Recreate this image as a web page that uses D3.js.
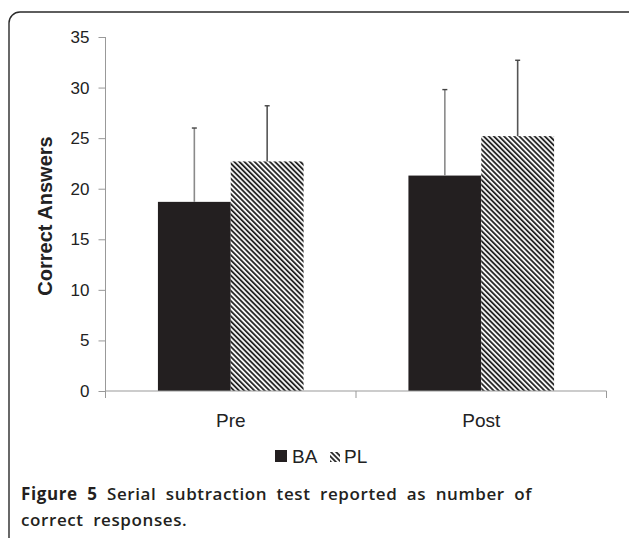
<!DOCTYPE html>
<meta charset="utf-8">
<script src="https://d3js.org/d3.v7.min.js"></script>
<style>
  body { margin: 0; background: #fff; }
  svg { display: block; }
</style>
<div id="graph"></div>
<script>
  // data
  var categories = ["Pre", "Post"];
  var series = ["BA", "PL"];
  var meanBA = [18.7, 21.3];
  var meanPL = [22.7, 25.2];
  var sdBA = [7.3, 8.5];
  var sdPL = [5.5, 7.5];
  var yTicks = [0, 5, 10, 15, 20, 25, 30, 35];

  var W = 629, H = 538;
  var svg = d3.select("#graph").append("svg")
    .attr("width", W).attr("height", H);

  // hatch pattern for PL
  var defs = svg.append("defs");
  var pat = defs.append("pattern")
    .attr("id", "hatch")
    .attr("patternUnits", "userSpaceOnUse")
    .attr("width", 3.6).attr("height", 3.6)
    .attr("patternTransform", "rotate(-45)");
  pat.append("rect").attr("width", 3.6).attr("height", 3.6).attr("fill", "#f4f4f4");
  pat.append("rect").attr("width", 1.7).attr("height", 3.6).attr("fill", "#1e1e1e");

  // outer rounded frame (runs off the right/bottom edge)
  svg.append("rect")
    .attr("x", 9).attr("y", 12)
    .attr("width", 640).attr("height", 560)
    .attr("rx", 11).attr("ry", 11)
    .attr("fill", "none")
    .attr("stroke", "#2a2a2a")
    .attr("stroke-width", 1.4);

  var plotL = 105.5, plotR = 606.5, plotT = 37, plotB = 391;

  var x = d3.scaleBand().domain(categories).range([plotL, plotR]).padding(0);
  var xs = d3.scaleBand().domain(series).range([0, x.bandwidth()]).paddingInner(0).paddingOuter(0.72);
  var y = d3.scaleLinear().domain([0, 35]).range([plotB, plotT]);

  var rows = categories.map(function (c, i) {
    return [
      { cat: c, s: "BA", v: meanBA[i], e: sdBA[i] },
      { cat: c, s: "PL", v: meanPL[i], e: sdPL[i] }
    ];
  });

  var g = svg.append("g");

  // bars
  rows.forEach(function (r) {
    g.selectAll(null)
      .data(r)
      .enter()
      .append("rect")
      .attr("x", function (d) { return x(d.cat) + xs(d.s); })
      .attr("y", function (d) { return y(d.v); })
      .attr("width", xs.bandwidth())
      .attr("height", function (d) { return y(0) - y(d.v); })
      .attr("fill", function (d) { return d.s === "BA" ? "#231f20" : "url(#hatch)"; });
  });

  // error bars (upper only)
  rows.forEach(function (r) {
    var eb = g.selectAll(null).data(r).enter().append("g");
    eb.append("line")
      .attr("x1", function (d) { return x(d.cat) + xs(d.s) + xs.bandwidth() / 2; })
      .attr("x2", function (d) { return x(d.cat) + xs(d.s) + xs.bandwidth() / 2; })
      .attr("y1", function (d) { return y(d.v); })
      .attr("y2", function (d) { return y(d.v + d.e); })
      .attr("stroke", function (d) { return d.s === "BA" ? "#8a8a8a" : "#555"; })
      .attr("stroke-width", 1.6);
    eb.append("line")
      .attr("x1", function (d) { return x(d.cat) + xs(d.s) + xs.bandwidth() / 2 - 2.5; })
      .attr("x2", function (d) { return x(d.cat) + xs(d.s) + xs.bandwidth() / 2 + 2.5; })
      .attr("y1", function (d) { return y(d.v + d.e); })
      .attr("y2", function (d) { return y(d.v + d.e); })
      .attr("stroke", "#444")
      .attr("stroke-width", 1.4);
  });

  // y axis
  var yAxis = svg.append("g")
    .attr("transform", "translate(" + plotL + ",0)")
    .call(d3.axisLeft(y).tickValues(yTicks).tickSize(7).tickPadding(9));
  yAxis.selectAll("line, path").attr("stroke", "#999");
  yAxis.selectAll("text")
    .attr("fill", "#222")
    .style("font-family", "'Liberation Sans', Arial, sans-serif")
    .style("font-size", "17px");
  yAxis.select("path").attr("d", "M0," + plotT + "V" + plotB);

  // x axis: ticks sit at band edges
  var xAxis = svg.append("g").attr("transform", "translate(0," + plotB + ")");
  xAxis.append("line")
    .attr("x1", plotL).attr("x2", plotR)
    .attr("stroke", "#999");
  var edges = categories.map(function (c) { return x(c); }).concat([plotR]);
  xAxis.selectAll(".edge").data(edges).enter().append("line")
    .attr("x1", function (d) { return d; }).attr("x2", function (d) { return d; })
    .attr("y1", 0).attr("y2", 7)
    .attr("stroke", "#999");
  xAxis.selectAll(".lab").data(categories).enter().append("text")
    .attr("x", function (d) { return x(d) + x.bandwidth() / 2; })
    .attr("y", 36)
    .attr("text-anchor", "middle")
    .attr("fill", "#222")
    .style("font-family", "'Liberation Sans', Arial, sans-serif")
    .style("font-size", "19px")
    .text(function (d) { return d; });

  // y title
  svg.append("text")
    .attr("transform", "translate(52,216) rotate(-90)")
    .attr("text-anchor", "middle")
    .attr("fill", "#222")
    .style("font-family", "'Liberation Sans', Arial, sans-serif")
    .style("font-size", "20px")
    .style("font-weight", "bold")
    .text("Correct Answers");

  // legend
  var leg = svg.append("g").style("font-family", "'Liberation Sans', Arial, sans-serif")
    .style("font-size", "19px").attr("fill", "#222");
  leg.append("rect").attr("x", 275).attr("y", 450).attr("width", 12).attr("height", 12).attr("fill", "#231f20");
  leg.append("text").attr("x", 292).attr("y", 463).text(series[0]);
  leg.append("rect").attr("x", 330).attr("y", 452).attr("width", 10).attr("height", 10).attr("fill", "url(#hatch)");
  leg.append("text").attr("x", 344).attr("y", 463).text(series[1]);

  // caption (first line justified to the frame width)
  var cap = svg.append("g")
    .style("font-family", "'Open Sans', 'Noto Sans', sans-serif")
    .style("font-size", "17px")
    .style("letter-spacing", "0.6px")
    .attr("fill", "#231f20");
  var l1 = cap.append("text").attr("x", 21).attr("y", 500);
  l1.append("tspan").style("font-weight", "700").text("Figure 5");
  l1.append("tspan").style("font-weight", "600").text(" Serial subtraction test reported as number of");
  var natural = l1.node().getComputedTextLength();
  var ws = Math.max(0, (511 - natural) / 8);
  l1.style("word-spacing", ws + "px");
  cap.append("text").attr("x", 21).attr("y", 526)
    .style("font-weight", "600")
    .style("word-spacing", ws + "px")
    .text("correct responses.");
</script>
